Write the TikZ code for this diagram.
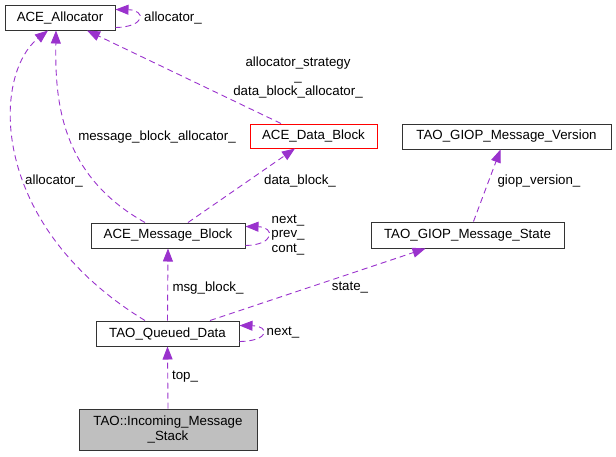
\documentclass[tikz,border=0pt]{standalone}
\usepackage{fontspec}
\setmainfont{Liberation Sans}
\usetikzlibrary{arrows.meta}
\definecolor{edgecol}{HTML}{9A32CD}
\definecolor{nodegray}{HTML}{BFBFBF}

\begin{document}
\begin{tikzpicture}[x=1pt,y=-1pt,every node/.style={font=\fontsize{13.3}{14.5}\selectfont, inner sep=0pt},cls/.style={draw=black!80, line width=1pt, fill=white, minimum height=25pt},lbl/.style={align=center},edge/.style={draw=edgecol, line width=0.9pt, dash pattern=on 6pt off 4pt, -{Triangle[length=13pt,width=10pt]}}]
\useasboundingbox (0,0) rectangle (616,456);
% classes
\node[cls, minimum width=110pt] (alloc) at (60,17.5) {ACE\_Allocator};
\node[cls, draw=red, minimum width=127pt, minimum height=24pt] (dblock) at (313.5,136) {ACE\_Data\_Block};
\node[cls, minimum width=154pt] (mblock) at (168,235.5) {ACE\_Message\_Block};
\node[cls, minimum width=143pt] (qdata) at (167.5,333.5) {TAO\_Queued\_Data};
\node[cls, fill=nodegray, minimum width=178pt, minimum height=41pt, align=center] (stack) at (168,429.5) {TAO::Incoming\_Message\\\_Stack};
\node[cls, minimum width=209pt] (gversion) at (506.5,136.5) {TAO\_GIOP\_Message\_Version};
\node[cls, minimum width=193pt, minimum height=26pt] (gstate) at (467.5,235) {TAO\_GIOP\_Message\_State};
% relations
\draw[edge] ([xshift=-22.5pt]qdata.north) .. controls (-12,225) and (-8,75) .. ([xshift=-12pt]alloc.south);
\draw[edge] ([xshift=-23pt]mblock.north) .. controls (60,175) and (55,100) .. ([xshift=-4pt]alloc.south);
\draw[edge] ([xshift=-32.5pt]dblock.north) -- ([xshift=27pt]alloc.south);
\draw[edge] ([yshift=3pt]alloc.south east) .. controls (146,27) and (146,10) .. ([yshift=-5pt]alloc.north east);
\draw[edge] ([xshift=20pt]mblock.north) -- ([xshift=-18.5pt]dblock.south);
\draw[edge] ([yshift=3pt]mblock.south east) .. controls (275,245) and (275,227) .. ([yshift=-4pt]mblock.north east);
\draw[edge] (qdata.north) -- (mblock.south);
\draw[edge] ([xshift=42.5pt]qdata.north) -- ([xshift=-42pt]gstate.south);
\draw[edge] ([xshift=6pt]gstate.north) -- ([xshift=-6pt]gversion.south);
\draw[edge] ([yshift=5pt]qdata.south east) .. controls (270,341) and (270,326) .. ([yshift=-5pt]qdata.north east);
\draw[edge] (stack.north) -- (qdata.south);
% labels
\node[lbl] (l-alloc) at (54,181) {allocator\_};
\node[lbl] (l-mballoc) at (157,137) {message\_block\_allocator\_};
\node[lbl] (l-dballoc) at (298,77) {allocator\_strategy\\\_\\data\_block\_allocator\_};
\node[lbl] (l-self) at (173,18) {allocator\_};
\node[lbl] (l-dblock) at (300,181) {data\_block\_};
\node[lbl] (l-links) at (288,235) {next\_\\prev\_\\cont\_};
\node[lbl] (l-msg) at (208,288) {msg\_block\_};
\node[lbl] (l-state) at (350,288) {state\_};
\node[lbl] (l-giop) at (539,181) {giop\_version\_};
\node[lbl] (l-next) at (283,333) {next\_};
\node[lbl] (l-top) at (185,377) {top\_};
\end{tikzpicture}
\end{document}
